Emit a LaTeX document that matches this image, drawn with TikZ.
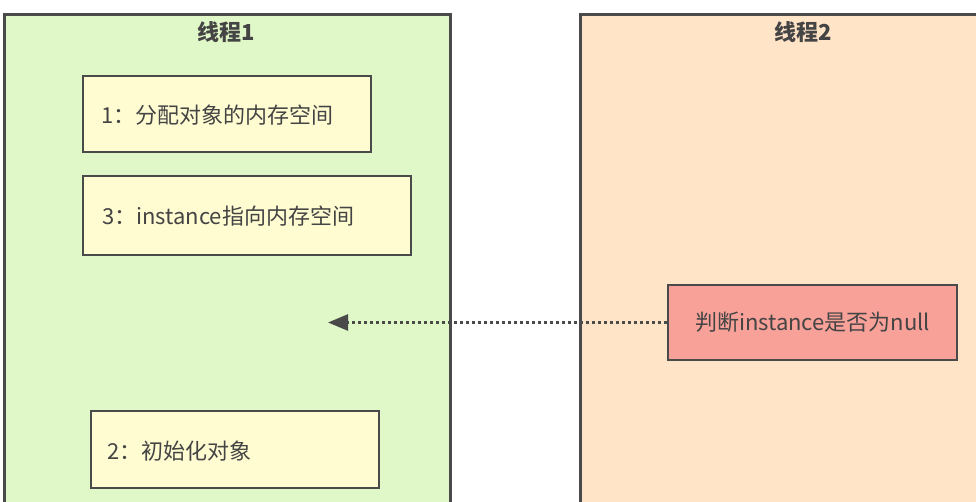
\documentclass[tikz,border=0pt]{standalone}
\usepackage{fontspec}
\setmainfont{Noto Sans CJK SC}
\usetikzlibrary{arrows.meta}
\definecolor{lanegreen}{HTML}{E0F8C8}
\definecolor{lanepeach}{HTML}{FFE4C8}
\definecolor{stepyellow}{HTML}{FFFCD2}
\definecolor{stepred}{HTML}{F8A199}
\definecolor{edgegray}{HTML}{4A4A4A}
\definecolor{txtgray}{HTML}{444444}
\begin{document}
\begin{tikzpicture}[x=1pt,y=-1pt,
  lane/.style={draw=edgegray,line width=3pt},
  stepbox/.style={draw=edgegray,line width=2.6pt,fill=stepyellow},
  steptext/.style={anchor=west,inner sep=0pt,font=\fontsize{22}{24}\selectfont,text=txtgray},
  lanetitle/.style={inner sep=0pt,font=\fontsize{22}{24}\selectfont\bfseries,text=txtgray}]
\useasboundingbox (0,0) rectangle (976,502);
\clip (0,0) rectangle (976,502);
\fill[white] (0,0) rectangle (976,502);
% lanes
\draw[lane,fill=lanegreen] (4,15) rectangle (450,520);
\draw[lane,fill=lanepeach] (580,15) rectangle (990,520);
\node[lanetitle] (t1) at (226,32) {线程1};
\node[lanetitle] (t2) at (803,32) {线程2};
% steps
\draw[stepbox] (83,76) rectangle (371,152);
\node[steptext] (s1) at (101,115) {1：分配对象的内存空间};
\draw[stepbox] (83,176) rectangle (411,255);
\node[steptext] (s3) at (102,216) {3：instance指向内存空间};
\draw[stepbox] (91,411) rectangle (379,488);
\node[steptext] (s2) at (107,451) {2：初始化对象};
% check box
\node[draw=edgegray,line width=2.6pt,fill=stepred,minimum width=289pt,minimum height=75pt,inner sep=0pt,
  font=\fontsize{22}{24}\selectfont,text=txtgray] (chk) at (812.5,322.5) {判断instance是否为null};
\coordinate (tip) at (328,322.5);
\draw[edgegray,line width=2.6pt,dash pattern=on 2.6pt off 3.4pt,-{Triangle[length=20pt,width=16pt,fill=edgegray]}] (chk.west) -- (tip);
\end{tikzpicture}
\end{document}
